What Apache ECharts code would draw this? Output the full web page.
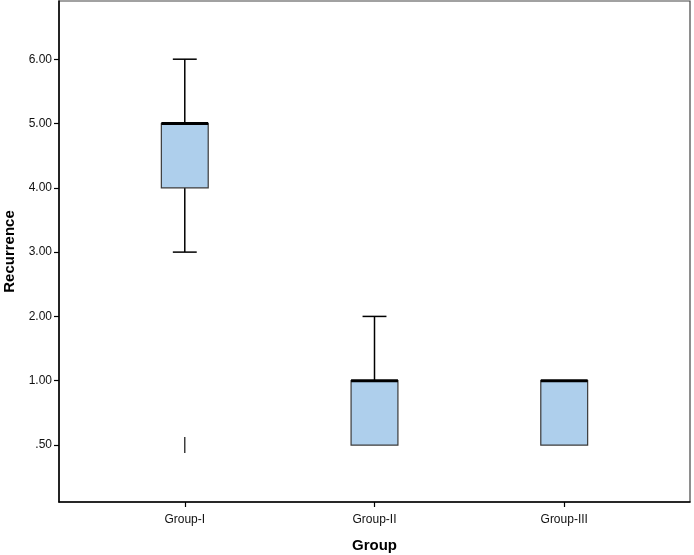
<!DOCTYPE html>
<html>
<head>
<meta charset="utf-8">
<script src="https://cdn.jsdelivr.net/npm/echarts@6/dist/echarts.min.js"></script>
<style>html,body{margin:0;padding:0;background:#fff}#c{width:694px;height:555px}</style>
</head>
<body>
<div id="c"></div>
<script>
// Data (y values in axis units; tick at 0 is labelled ".50" as in the original)
const categories = ['Group-I', 'Group-II', 'Group-III'];
const whiskerLow = [3, 0, 0];
const q1Vals = [4, 0, 0];
const medianVals = [5, 1, 1];
const q3Vals = [5, 1, 1];
const whiskerHigh = [6, 2, 1];
const outlierGroup = [0];
const outlierVals = [0];
const yTickValues = [0, 1, 2, 3, 4, 5, 6];
const yTickLabels = ['.50', '1.00', '2.00', '3.00', '4.00', '5.00', '6.00'];

const boxData = categories.map((c, i) => [i + 1, whiskerLow[i], q1Vals[i], medianVals[i], q3Vals[i], whiskerHigh[i]]);
const outData = outlierGroup.map((g, i) => [g + 1, outlierVals[i]]);

const chart = echarts.init(document.getElementById('c'), null, { renderer: 'canvas' });

function renderBox(params, api) {
  const x = api.value(0);
  const lo = api.coord([x, api.value(1)]);
  const q1 = api.coord([x, api.value(2)]);
  const md = api.coord([x, api.value(3)]);
  const q3 = api.coord([x, api.value(4)]);
  const hi = api.coord([x, api.value(5)]);
  const unit = api.size([1, 0])[0];
  const bw = unit * 0.247;
  const cw = unit * 0.126;
  const cx = lo[0];
  const ch = [];
  const lineStyle = { stroke: '#000', lineWidth: 1.5 };
  if (api.value(5) !== api.value(4)) {
    ch.push({ type: 'line', shape: { x1: cx, y1: q3[1], x2: cx, y2: hi[1] }, style: lineStyle });
    ch.push({ type: 'line', shape: { x1: cx - cw / 2, y1: hi[1], x2: cx + cw / 2, y2: hi[1] }, style: lineStyle });
  }
  if (api.value(1) !== api.value(2)) {
    ch.push({ type: 'line', shape: { x1: cx, y1: lo[1], x2: cx, y2: q1[1] }, style: lineStyle });
    ch.push({ type: 'line', shape: { x1: cx - cw / 2, y1: lo[1], x2: cx + cw / 2, y2: lo[1] }, style: lineStyle });
  }
  ch.push({ type: 'rect', shape: { x: cx - bw / 2, y: q3[1], width: bw, height: q1[1] - q3[1] },
    style: { fill: '#aecfec', stroke: '#3a3a3a', lineWidth: 1.2 } });
  ch.push({ type: 'line', shape: { x1: cx - bw / 2, y1: md[1], x2: cx + bw / 2, y2: md[1] },
    style: { stroke: '#000', lineWidth: 3 } });
  return { type: 'group', children: ch };
}

function renderOut(params, api) {
  const p = api.coord([api.value(0), api.value(1)]);
  return { type: 'line', shape: { x1: p[0], y1: p[1] - 8, x2: p[0], y2: p[1] + 8 },
    style: { stroke: '#222', lineWidth: 1.3 } };
}

chart.setOption({
  animation: false,
  backgroundColor: '#fff',
  grid: { left: 59, right: 4, top: 1, bottom: 53, show: true, borderColor: '#444', borderWidth: 1.2, backgroundColor: '#fff',
    containLabel: false, outerBoundsMode: 'none' },
  xAxis: {
    type: 'value', min: 0.337, max: 3.663,
    name: 'Group', nameLocation: 'middle', nameGap: 36,
    nameTextStyle: { fontFamily: 'Liberation Sans', fontWeight: 'bold', fontSize: 15, color: '#000' },
    axisLine: { show: true, onZero: false, lineStyle: { color: '#000', width: 1.5 } },
    axisTick: { show: true, length: 5, customValues: [1, 2, 3], lineStyle: { color: '#000', width: 1.2 } },
    axisLabel: { customValues: [1, 2, 3], margin: 12, fontFamily: 'Liberation Sans', fontSize: 12, color: '#111',
      formatter: v => categories[Math.round(v) - 1] || '' },
    splitLine: { show: false }
  },
  yAxis: {
    type: 'value', min: -0.886, max: 6.905,
    name: 'Recurrence', nameLocation: 'middle', nameGap: 42,
    nameTextStyle: { fontFamily: 'Liberation Sans', fontWeight: 'bold', fontSize: 15, color: '#000' },
    axisLine: { show: true, onZero: false, lineStyle: { color: '#000', width: 1.5 } },
    axisTick: { show: true, length: 5, customValues: yTickValues, lineStyle: { color: '#000', width: 1.2 } },
    axisLabel: { customValues: yTickValues, margin: 7, fontFamily: 'Liberation Sans', fontSize: 12, color: '#111',
      formatter: v => { const i = yTickValues.indexOf(Math.round(v)); return i >= 0 ? yTickLabels[i] : ''; } },
    splitLine: { show: false }
  },
  series: [
    { type: 'custom', renderItem: renderBox, data: boxData, encode: { x: 0, y: [1, 2, 3, 4, 5] }, z: 3 },
    { type: 'custom', renderItem: renderOut, data: outData, encode: { x: 0, y: 1 }, z: 3 }
  ]
});
</script>
</body>
</html>
